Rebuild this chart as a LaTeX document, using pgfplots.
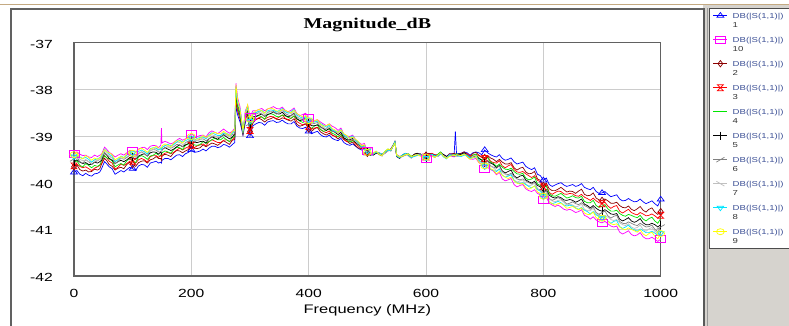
\documentclass[border=0pt]{standalone}
\usepackage{fontspec}
\usepackage{pgfplots}
\usepackage{pgfplotstable}
\pgfplotsset{compat=1.18}

\newfontfamily\labfont[FakeStretch=1.33]{Liberation Sans}
\newfontfamily\titlefont[FakeStretch=1.33]{Liberation Serif}

\definecolor{sblue}{RGB}{0,0,255}
\definecolor{smagenta}{RGB}{255,0,255}
\definecolor{sdarkred}{RGB}{139,0,0}
\definecolor{sred}{RGB}{255,0,0}
\definecolor{sgreen}{RGB}{0,230,0}
\definecolor{sgray}{RGB}{128,128,128}
\definecolor{slgray}{RGB}{192,192,192}
\definecolor{scyan}{RGB}{0,230,255}
\definecolor{syellow}{RGB}{255,255,0}
\definecolor{legtxt}{RGB}{60,80,150}
\definecolor{tanline}{RGB}{196,170,130}
\definecolor{panelgray}{RGB}{214,211,206}

% hourglass: two stacked triangles
\pgfdeclareplotmark{hourglass}{%
  \pgfpathmoveto{\pgfqpoint{-\pgfplotmarksize}{\pgfplotmarksize}}%
  \pgfpathlineto{\pgfqpoint{\pgfplotmarksize}{\pgfplotmarksize}}%
  \pgfpathlineto{\pgfqpoint{-\pgfplotmarksize}{-\pgfplotmarksize}}%
  \pgfpathlineto{\pgfqpoint{\pgfplotmarksize}{-\pgfplotmarksize}}%
  \pgfpathclose\pgfusepathqstroke}
\pgfdeclareplotmark{fslash}{%
  \pgfpathmoveto{\pgfqpoint{-\pgfplotmarksize}{-0.6\pgfplotmarksize}}%
  \pgfpathlineto{\pgfqpoint{\pgfplotmarksize}{0.6\pgfplotmarksize}}%
  \pgfusepathqstroke}
\pgfdeclareplotmark{bslash}{%
  \pgfpathmoveto{\pgfqpoint{-\pgfplotmarksize}{0.6\pgfplotmarksize}}%
  \pgfpathlineto{\pgfqpoint{\pgfplotmarksize}{-0.6\pgfplotmarksize}}%
  \pgfusepathqstroke}

\newcommand\lgd[1]{\makebox[0pt][l]{\raisebox{-9.5pt}[0pt][0pt]{\textcolor{black!80}{#1}}}\textcolor{legtxt}{DB(|S(1,1)|)}}

% |S11| in dB for the ten sweeps, frequency in MHz
\pgfplotstableread{
x s1 s2 s3 s4 s5 s6 s7 s8 s9 s10
0 -39.78 -39.66 -39.64 -39.57 -39.55 -39.49 -39.44 -39.44 -39.40 -39.38
5 -39.74 -39.62 -39.60 -39.53 -39.51 -39.45 -39.40 -39.40 -39.36 -39.34
10 -39.82 -39.72 -39.65 -39.63 -39.56 -39.55 -39.50 -39.45 -39.46 -39.39
15 -39.85 -39.75 -39.68 -39.66 -39.59 -39.58 -39.53 -39.48 -39.49 -39.42
20 -39.80 -39.73 -39.66 -39.59 -39.57 -39.51 -39.51 -39.46 -39.42 -39.41
25 -39.84 -39.77 -39.70 -39.63 -39.61 -39.55 -39.55 -39.50 -39.46 -39.45
30 -39.86 -39.76 -39.74 -39.68 -39.61 -39.61 -39.56 -39.56 -39.52 -39.46
35 -39.81 -39.71 -39.69 -39.63 -39.56 -39.56 -39.51 -39.51 -39.47 -39.41
40 -39.80 -39.73 -39.66 -39.65 -39.58 -39.53 -39.53 -39.49 -39.50 -39.44
44 -39.77 -39.70 -39.63 -39.62 -39.55 -39.50 -39.50 -39.46 -39.47 -39.41
47 -39.70 -39.60 -39.59 -39.53 -39.52 -39.47 -39.43 -39.43 -39.40 -39.39
52 -39.55 -39.48 -39.42 -39.42 -39.36 -39.36 -39.32 -39.28 -39.29 -39.24
56 -39.60 -39.53 -39.47 -39.47 -39.41 -39.41 -39.37 -39.33 -39.34 -39.29
60 -39.66 -39.61 -39.54 -39.49 -39.48 -39.43 -39.43 -39.39 -39.36 -39.35
65 -39.70 -39.65 -39.58 -39.53 -39.52 -39.47 -39.47 -39.43 -39.40 -39.39
70 -39.82 -39.73 -39.71 -39.66 -39.59 -39.59 -39.54 -39.55 -39.51 -39.45
75 -39.78 -39.69 -39.67 -39.62 -39.55 -39.55 -39.50 -39.51 -39.47 -39.41
80 -39.74 -39.67 -39.60 -39.59 -39.52 -39.47 -39.47 -39.43 -39.44 -39.38
85 -39.77 -39.70 -39.63 -39.62 -39.55 -39.50 -39.50 -39.46 -39.47 -39.41
90 -39.72 -39.61 -39.59 -39.53 -39.51 -39.46 -39.41 -39.41 -39.37 -39.36
95 -39.67 -39.56 -39.54 -39.48 -39.46 -39.41 -39.36 -39.36 -39.32 -39.31
100 -39.70 -39.61 -39.54 -39.53 -39.46 -39.46 -39.41 -39.36 -39.37 -39.31
105 -39.74 -39.65 -39.58 -39.57 -39.50 -39.50 -39.45 -39.40 -39.41 -39.35
110 -39.64 -39.57 -39.51 -39.45 -39.43 -39.37 -39.38 -39.33 -39.29 -39.28
115 -39.61 -39.54 -39.48 -39.42 -39.40 -39.34 -39.35 -39.30 -39.26 -39.25
120 -39.62 -39.53 -39.51 -39.45 -39.38 -39.38 -39.33 -39.34 -39.30 -39.24
125 -39.67 -39.58 -39.56 -39.50 -39.43 -39.43 -39.38 -39.39 -39.35 -39.29
130 -39.58 -39.51 -39.44 -39.43 -39.36 -39.31 -39.31 -39.27 -39.28 -39.22
135 -39.56 -39.49 -39.42 -39.41 -39.34 -39.29 -39.29 -39.25 -39.26 -39.20
140 -39.54 -39.44 -39.42 -39.37 -39.35 -39.30 -39.25 -39.26 -39.22 -39.21
144 -39.58 -39.48 -39.46 -39.41 -39.39 -39.34 -39.29 -39.30 -39.26 -39.25
148 -39.56 -39.48 -39.41 -39.41 -39.34 -39.34 -39.29 -39.25 -39.26 -39.20
149 -39.58 -39.52 -39.45 -39.40 -39.38 -39.33 -39.33 -39.29 -39.25 -38.83
150 -39.52 -39.43 -39.41 -39.36 -39.29 -39.29 -39.24 -39.25 -39.21 -39.15
155 -39.48 -39.39 -39.37 -39.32 -39.25 -39.25 -39.20 -39.21 -39.17 -39.11
160 -39.48 -39.41 -39.35 -39.34 -39.28 -39.23 -39.23 -39.18 -39.20 -39.14
165 -39.51 -39.44 -39.38 -39.37 -39.31 -39.26 -39.26 -39.21 -39.23 -39.17
170 -39.46 -39.36 -39.35 -39.29 -39.28 -39.23 -39.18 -39.18 -39.15 -39.14
175 -39.41 -39.31 -39.30 -39.24 -39.23 -39.18 -39.13 -39.13 -39.10 -39.09
180 -39.40 -39.32 -39.26 -39.25 -39.19 -39.19 -39.14 -39.09 -39.11 -39.05
185 -39.44 -39.36 -39.30 -39.29 -39.23 -39.23 -39.18 -39.13 -39.15 -39.09
190 -39.38 -39.32 -39.26 -39.20 -39.19 -39.14 -39.15 -39.10 -39.07 -39.06
195 -39.35 -39.29 -39.23 -39.17 -39.16 -39.11 -39.12 -39.07 -39.04 -39.03
200 -39.30 -39.21 -39.20 -39.14 -39.08 -39.08 -39.04 -39.04 -39.01 -38.95
205 -39.35 -39.26 -39.25 -39.19 -39.13 -39.13 -39.09 -39.09 -39.06 -39.00
210 -39.34 -39.27 -39.21 -39.20 -39.14 -39.09 -39.10 -39.05 -39.07 -39.01
215 -39.32 -39.25 -39.19 -39.18 -39.12 -39.07 -39.08 -39.03 -39.05 -38.99
220 -39.28 -39.19 -39.17 -39.12 -39.11 -39.06 -39.01 -39.02 -38.99 -38.98
225 -39.32 -39.23 -39.21 -39.16 -39.15 -39.10 -39.05 -39.06 -39.03 -39.02
230 -39.26 -39.19 -39.12 -39.12 -39.06 -39.06 -39.01 -38.97 -38.99 -38.93
235 -39.22 -39.15 -39.08 -39.08 -39.02 -39.02 -38.97 -38.93 -38.95 -38.89
240 -39.22 -39.17 -39.11 -39.05 -39.04 -39.00 -39.00 -38.96 -38.92 -38.92
245 -39.25 -39.20 -39.14 -39.08 -39.07 -39.03 -39.03 -38.99 -38.95 -38.95
250 -39.23 -39.15 -39.14 -39.08 -39.02 -39.03 -38.98 -38.99 -38.95 -38.90
255 -39.18 -39.10 -39.09 -39.03 -38.97 -38.98 -38.93 -38.94 -38.90 -38.85
260 -39.20 -39.14 -39.08 -39.08 -39.02 -38.97 -38.98 -38.94 -38.95 -38.90
265 -39.24 -39.18 -39.12 -39.12 -39.06 -39.01 -39.02 -38.98 -38.99 -38.94
270 -39.18 -39.09 -39.08 -39.03 -39.02 -38.97 -38.93 -38.94 -38.90 -38.90
274 -39.14 -39.07 -39.01 -39.01 -38.95 -38.95 -38.91 -38.87 -38.88 -38.83
276 -38.37 -38.27 -38.19 -38.11 -38.07 -38.01 -38.00 -37.94 -37.90 -37.87
279 -38.55 -38.46 -38.44 -38.39 -38.32 -38.32 -38.27 -38.28 -38.24 -38.18
283 -38.70 -38.64 -38.57 -38.57 -38.51 -38.46 -38.46 -38.42 -38.44 -38.38
288 -38.98 -38.94 -38.95 -38.92 -38.94 -38.91 -38.88 -38.91 -38.88 -38.90
292 -38.72 -38.66 -38.61 -38.61 -38.56 -38.57 -38.53 -38.49 -38.51 -38.46
296 -38.55 -38.52 -38.47 -38.43 -38.43 -38.39 -38.40 -38.37 -38.33 -38.34
300 -39.00 -38.90 -38.88 -38.81 -38.74 -38.73 -38.68 -38.68 -38.64 -38.58
305 -38.78 -38.72 -38.65 -38.65 -38.59 -38.54 -38.54 -38.50 -38.52 -38.46
310 -38.74 -38.65 -38.64 -38.59 -38.58 -38.53 -38.49 -38.50 -38.46 -38.46
315 -38.71 -38.62 -38.61 -38.56 -38.55 -38.50 -38.46 -38.47 -38.43 -38.43
320 -38.72 -38.65 -38.59 -38.59 -38.53 -38.53 -38.49 -38.45 -38.46 -38.41
325 -38.77 -38.70 -38.64 -38.64 -38.58 -38.58 -38.54 -38.50 -38.51 -38.46
330 -38.70 -38.65 -38.60 -38.54 -38.54 -38.49 -38.50 -38.46 -38.42 -38.42
335 -38.68 -38.63 -38.58 -38.52 -38.52 -38.47 -38.48 -38.44 -38.40 -38.40
340 -38.67 -38.60 -38.59 -38.54 -38.48 -38.49 -38.44 -38.45 -38.42 -38.37
345 -38.71 -38.64 -38.63 -38.58 -38.52 -38.53 -38.48 -38.49 -38.46 -38.41
350 -38.70 -38.65 -38.59 -38.59 -38.53 -38.49 -38.49 -38.45 -38.47 -38.42
355 -38.66 -38.61 -38.55 -38.55 -38.49 -38.45 -38.45 -38.41 -38.43 -38.38
360 -38.71 -38.63 -38.62 -38.57 -38.56 -38.52 -38.47 -38.48 -38.45 -38.45
365 -38.74 -38.66 -38.65 -38.60 -38.59 -38.55 -38.50 -38.51 -38.48 -38.48
370 -38.74 -38.68 -38.62 -38.62 -38.56 -38.57 -38.52 -38.48 -38.50 -38.45
375 -38.69 -38.63 -38.57 -38.57 -38.51 -38.52 -38.47 -38.43 -38.45 -38.40
380 -38.79 -38.75 -38.69 -38.64 -38.63 -38.59 -38.59 -38.55 -38.52 -38.52
385 -38.83 -38.79 -38.73 -38.68 -38.67 -38.63 -38.63 -38.59 -38.56 -38.56
390 -38.84 -38.77 -38.76 -38.71 -38.65 -38.66 -38.61 -38.62 -38.59 -38.54
395 -38.81 -38.74 -38.73 -38.68 -38.62 -38.63 -38.58 -38.59 -38.56 -38.51
400 -38.90 -38.85 -38.79 -38.79 -38.73 -38.69 -38.69 -38.65 -38.67 -38.62
405 -38.95 -38.90 -38.84 -38.84 -38.78 -38.74 -38.74 -38.70 -38.72 -38.67
410 -38.92 -38.84 -38.83 -38.78 -38.78 -38.73 -38.69 -38.70 -38.67 -38.67
415 -38.90 -38.82 -38.81 -38.76 -38.76 -38.71 -38.67 -38.68 -38.65 -38.65
420 -38.97 -38.91 -38.86 -38.86 -38.80 -38.81 -38.77 -38.73 -38.75 -38.70
425 -39.01 -38.95 -38.90 -38.90 -38.84 -38.85 -38.81 -38.77 -38.79 -38.74
430 -39.02 -38.98 -38.93 -38.88 -38.88 -38.84 -38.85 -38.81 -38.78 -38.78
435 -38.98 -38.94 -38.89 -38.84 -38.84 -38.80 -38.81 -38.77 -38.74 -38.74
440 -39.05 -38.98 -38.98 -38.94 -38.89 -38.89 -38.86 -38.87 -38.84 -38.79
445 -39.08 -39.01 -39.01 -38.97 -38.92 -38.92 -38.89 -38.90 -38.87 -38.82
450 -39.10 -39.06 -39.01 -39.02 -38.97 -38.93 -38.94 -38.91 -38.92 -38.88
455 -39.05 -39.01 -38.96 -38.97 -38.92 -38.88 -38.89 -38.86 -38.87 -38.83
460 -39.14 -39.07 -39.08 -39.04 -39.04 -39.00 -38.97 -38.98 -38.95 -38.96
465 -39.18 -39.11 -39.12 -39.08 -39.08 -39.04 -39.01 -39.02 -38.99 -39.00
470 -39.20 -39.16 -39.12 -39.13 -39.08 -39.10 -39.06 -39.03 -39.05 -39.01
475 -39.17 -39.13 -39.09 -39.10 -39.05 -39.07 -39.03 -39.00 -39.02 -38.98
480 -39.22 -39.21 -39.17 -39.13 -39.14 -39.11 -39.12 -39.09 -39.07 -39.08
485 -39.27 -39.26 -39.22 -39.18 -39.19 -39.16 -39.17 -39.14 -39.12 -39.13
490 -39.30 -39.27 -39.28 -39.25 -39.22 -39.24 -39.21 -39.24 -39.21 -39.18
495 -39.28 -39.25 -39.26 -39.23 -39.20 -39.22 -39.19 -39.22 -39.19 -39.16
500 -39.37 -39.37 -39.34 -39.37 -39.34 -39.32 -39.34 -39.32 -39.35 -39.32
505 -39.41 -39.41 -39.38 -39.41 -39.38 -39.36 -39.38 -39.36 -39.39 -39.36
510 -39.40 -39.38 -39.40 -39.38 -39.41 -39.39 -39.36 -39.39 -39.37 -39.40
515 -39.36 -39.34 -39.36 -39.34 -39.37 -39.35 -39.32 -39.35 -39.33 -39.36
520 -39.38 -39.38 -39.36 -39.39 -39.37 -39.40 -39.38 -39.36 -39.39 -39.37
525 -39.41 -39.41 -39.39 -39.42 -39.40 -39.43 -39.41 -39.39 -39.42 -39.40
530 -39.35 -39.37 -39.35 -39.33 -39.36 -39.34 -39.37 -39.35 -39.33 -39.36
535 -39.30 -39.32 -39.30 -39.28 -39.31 -39.29 -39.32 -39.30 -39.28 -39.31
540 -39.30 -39.29 -39.32 -39.30 -39.28 -39.31 -39.29 -39.32 -39.30 -39.28
547 -39.13 -39.14 -39.12 -39.15 -39.13 -39.11 -39.14 -39.12 -39.15 -39.13
550 -39.42 -39.40 -39.43 -39.41 -39.44 -39.42 -39.40 -39.43 -39.41 -39.44
555 -39.46 -39.44 -39.47 -39.45 -39.48 -39.46 -39.44 -39.47 -39.45 -39.48
560 -39.42 -39.42 -39.40 -39.43 -39.41 -39.44 -39.42 -39.40 -39.43 -39.41
565 -39.39 -39.39 -39.37 -39.40 -39.38 -39.41 -39.39 -39.37 -39.40 -39.38
570 -39.39 -39.41 -39.40 -39.38 -39.41 -39.39 -39.43 -39.41 -39.39 -39.42
575 -39.44 -39.46 -39.45 -39.43 -39.46 -39.44 -39.48 -39.46 -39.44 -39.47
580 -39.40 -39.39 -39.43 -39.41 -39.39 -39.42 -39.41 -39.44 -39.42 -39.40
585 -39.38 -39.37 -39.41 -39.39 -39.37 -39.40 -39.39 -39.42 -39.40 -39.38
590 -39.38 -39.40 -39.38 -39.41 -39.40 -39.38 -39.41 -39.40 -39.43 -39.41
595 -39.42 -39.44 -39.42 -39.45 -39.44 -39.42 -39.45 -39.44 -39.47 -39.45
600 -39.42 -39.41 -39.45 -39.43 -39.47 -39.45 -39.44 -39.47 -39.45 -39.49
605 -39.38 -39.37 -39.41 -39.39 -39.43 -39.41 -39.40 -39.43 -39.41 -39.45
610 -39.38 -39.39 -39.37 -39.41 -39.39 -39.43 -39.41 -39.39 -39.43 -39.41
615 -39.41 -39.42 -39.40 -39.44 -39.42 -39.46 -39.44 -39.42 -39.46 -39.44
620 -39.40 -39.43 -39.41 -39.39 -39.43 -39.41 -39.44 -39.43 -39.41 -39.44
625 -39.35 -39.38 -39.36 -39.34 -39.38 -39.36 -39.39 -39.38 -39.36 -39.39
630 -39.40 -39.40 -39.43 -39.42 -39.40 -39.44 -39.42 -39.45 -39.44 -39.42
635 -39.44 -39.44 -39.47 -39.46 -39.44 -39.48 -39.46 -39.49 -39.48 -39.46
640 -39.38 -39.40 -39.38 -39.42 -39.40 -39.39 -39.42 -39.40 -39.44 -39.42
648 -39.38 -39.37 -39.41 -39.39 -39.43 -39.41 -39.40 -39.43 -39.41 -39.45
650 -38.90 -39.39 -39.38 -39.41 -39.40 -39.43 -39.42 -39.40 -39.43 -39.42
652 -39.38 -39.41 -39.40 -39.38 -39.42 -39.40 -39.44 -39.42 -39.40 -39.44
660 -39.37 -39.37 -39.41 -39.40 -39.39 -39.42 -39.41 -39.44 -39.42 -39.41
665 -39.34 -39.34 -39.38 -39.37 -39.36 -39.39 -39.38 -39.41 -39.39 -39.38
670 -39.36 -39.39 -39.38 -39.42 -39.41 -39.40 -39.43 -39.42 -39.45 -39.44
675 -39.41 -39.44 -39.43 -39.47 -39.46 -39.45 -39.48 -39.47 -39.50 -39.49
680 -39.36 -39.37 -39.41 -39.41 -39.45 -39.44 -39.43 -39.47 -39.46 -39.50
685 -39.34 -39.35 -39.39 -39.39 -39.43 -39.42 -39.41 -39.45 -39.44 -39.48
690 -39.36 -39.41 -39.42 -39.47 -39.48 -39.53 -39.53 -39.52 -39.57 -39.57
695 -39.40 -39.45 -39.46 -39.51 -39.52 -39.57 -39.57 -39.56 -39.61 -39.61
700 -39.30 -39.46 -39.48 -39.50 -39.57 -39.58 -39.64 -39.65 -39.64 -39.71
705 -39.36 -39.42 -39.44 -39.46 -39.53 -39.54 -39.60 -39.61 -39.60 -39.67
710 -39.40 -39.47 -39.54 -39.56 -39.58 -39.64 -39.65 -39.71 -39.70 -39.72
715 -39.43 -39.50 -39.57 -39.59 -39.61 -39.67 -39.68 -39.74 -39.73 -39.75
720 -39.45 -39.55 -39.58 -39.65 -39.68 -39.69 -39.75 -39.76 -39.81 -39.83
725 -39.40 -39.50 -39.53 -39.60 -39.63 -39.64 -39.70 -39.71 -39.76 -39.78
730 -39.48 -39.56 -39.64 -39.67 -39.75 -39.77 -39.78 -39.84 -39.84 -39.92
735 -39.52 -39.60 -39.68 -39.71 -39.79 -39.81 -39.82 -39.88 -39.88 -39.96
740 -39.50 -39.60 -39.64 -39.72 -39.76 -39.83 -39.85 -39.86 -39.91 -39.94
745 -39.47 -39.57 -39.61 -39.69 -39.73 -39.80 -39.82 -39.83 -39.88 -39.91
750 -39.55 -39.68 -39.72 -39.76 -39.85 -39.87 -39.94 -39.95 -39.96 -40.04
755 -39.60 -39.73 -39.77 -39.81 -39.90 -39.92 -39.99 -40.00 -40.01 -40.09
760 -39.58 -39.69 -39.78 -39.82 -39.86 -39.94 -39.96 -40.02 -40.03 -40.06
765 -39.56 -39.67 -39.76 -39.80 -39.84 -39.92 -39.94 -40.00 -40.01 -40.04
770 -39.65 -39.77 -39.81 -39.90 -39.94 -39.96 -40.03 -40.04 -40.10 -40.13
775 -39.69 -39.81 -39.85 -39.94 -39.98 -40.00 -40.07 -40.08 -40.14 -40.17
780 -39.72 -39.80 -39.89 -39.92 -40.01 -40.03 -40.05 -40.11 -40.11 -40.19
785 -39.68 -39.76 -39.85 -39.88 -39.97 -39.99 -40.01 -40.07 -40.07 -40.15
790 -39.82 -39.92 -39.95 -40.03 -40.06 -40.13 -40.14 -40.15 -40.20 -40.23
795 -39.85 -39.95 -39.98 -40.06 -40.09 -40.16 -40.17 -40.18 -40.23 -40.26
800 -39.95 -40.06 -40.09 -40.12 -40.20 -40.22 -40.28 -40.29 -40.29 -40.36
805 -39.90 -40.01 -40.04 -40.07 -40.15 -40.17 -40.23 -40.24 -40.24 -40.31
810 -40.04 -40.13 -40.21 -40.24 -40.27 -40.34 -40.35 -40.41 -40.41 -40.44
815 -40.08 -40.17 -40.25 -40.28 -40.31 -40.38 -40.39 -40.45 -40.45 -40.48
820 -40.05 -40.17 -40.21 -40.29 -40.33 -40.35 -40.41 -40.43 -40.48 -40.51
825 -40.02 -40.14 -40.18 -40.26 -40.30 -40.32 -40.38 -40.40 -40.45 -40.48
830 -40.00 -40.10 -40.19 -40.23 -40.32 -40.35 -40.37 -40.43 -40.44 -40.52
835 -40.05 -40.15 -40.24 -40.28 -40.37 -40.40 -40.42 -40.48 -40.49 -40.57
840 -40.08 -40.20 -40.25 -40.33 -40.38 -40.46 -40.48 -40.50 -40.55 -40.59
845 -40.06 -40.18 -40.23 -40.31 -40.36 -40.44 -40.46 -40.48 -40.53 -40.57
850 -40.04 -40.19 -40.24 -40.28 -40.38 -40.41 -40.48 -40.50 -40.51 -40.60
855 -40.08 -40.23 -40.28 -40.32 -40.42 -40.45 -40.52 -40.54 -40.55 -40.64
860 -40.06 -40.18 -40.29 -40.33 -40.39 -40.47 -40.50 -40.57 -40.58 -40.62
865 -40.02 -40.14 -40.25 -40.29 -40.35 -40.43 -40.46 -40.53 -40.54 -40.58
870 -40.10 -40.25 -40.31 -40.40 -40.46 -40.49 -40.57 -40.59 -40.65 -40.70
875 -40.13 -40.28 -40.34 -40.43 -40.49 -40.52 -40.60 -40.62 -40.68 -40.73
880 -40.15 -40.27 -40.38 -40.43 -40.54 -40.57 -40.60 -40.67 -40.68 -40.78
885 -40.10 -40.22 -40.33 -40.38 -40.49 -40.52 -40.55 -40.62 -40.63 -40.73
890 -40.19 -40.33 -40.39 -40.49 -40.55 -40.64 -40.67 -40.69 -40.75 -40.80
895 -40.23 -40.37 -40.43 -40.53 -40.59 -40.68 -40.71 -40.73 -40.79 -40.84
900 -40.22 -40.38 -40.45 -40.50 -40.61 -40.64 -40.73 -40.75 -40.76 -40.86
905 -40.19 -40.35 -40.42 -40.47 -40.58 -40.61 -40.70 -40.72 -40.73 -40.83
910 -40.25 -40.39 -40.50 -40.56 -40.62 -40.71 -40.74 -40.82 -40.83 -40.88
915 -40.30 -40.44 -40.55 -40.61 -40.67 -40.76 -40.79 -40.87 -40.88 -40.93
920 -40.28 -40.44 -40.51 -40.61 -40.68 -40.72 -40.81 -40.83 -40.90 -40.95
925 -40.26 -40.42 -40.49 -40.59 -40.66 -40.70 -40.79 -40.81 -40.88 -40.93
930 -40.35 -40.49 -40.61 -40.66 -40.78 -40.83 -40.86 -40.94 -40.95 -41.06
935 -40.39 -40.53 -40.65 -40.70 -40.82 -40.87 -40.90 -40.98 -40.99 -41.10
940 -40.38 -40.54 -40.61 -40.72 -40.79 -40.88 -40.92 -40.95 -41.01 -41.07
945 -40.34 -40.50 -40.57 -40.68 -40.75 -40.84 -40.88 -40.91 -40.97 -41.03
950 -40.38 -40.57 -40.64 -40.70 -40.82 -40.87 -40.95 -40.98 -41.00 -41.11
955 -40.41 -40.60 -40.67 -40.73 -40.85 -40.90 -40.98 -41.01 -41.03 -41.14
960 -40.40 -40.56 -40.69 -40.75 -40.82 -40.92 -40.96 -41.04 -41.06 -41.12
965 -40.35 -40.51 -40.64 -40.70 -40.77 -40.87 -40.91 -40.99 -41.01 -41.07
970 -40.41 -40.59 -40.67 -40.78 -40.86 -40.91 -41.00 -41.03 -41.10 -41.16
975 -40.45 -40.63 -40.71 -40.82 -40.90 -40.95 -41.04 -41.07 -41.14 -41.20
980 -40.42 -40.57 -40.70 -40.77 -40.90 -40.94 -40.99 -41.07 -41.09 -41.20
985 -40.39 -40.54 -40.67 -40.74 -40.87 -40.91 -40.96 -41.04 -41.06 -41.17
990 -40.45 -40.63 -40.71 -40.82 -40.90 -41.00 -41.04 -41.08 -41.15 -41.21
995 -40.50 -40.68 -40.76 -40.87 -40.95 -41.05 -41.09 -41.13 -41.20 -41.26
1000 -40.36 -40.62 -40.70 -40.77 -40.90 -40.95 -41.04 -41.08 -41.09 -41.21
}\magdata

\begin{document}
\begin{tikzpicture}[x=1pt,y=1pt]
\useasboundingbox (0pt,0pt) rectangle (789pt,326pt);
% window frame
\fill[white] (0pt,0pt) rectangle (789pt,326pt);
\draw[tanline, line width=1.4pt] (0pt,321.7pt) -- (789pt,321.7pt);
\draw[black!62, line width=1.2pt] (11pt,0pt) -- (11pt,317pt) -- (703pt,317pt);
\fill[panelgray] (703pt,0pt) rectangle (789pt,321pt);
\draw[black!65, line width=2pt] (704pt,0pt) -- (704pt,318pt);
\draw[black!40, line width=0.8pt] (707.8pt,0pt) -- (707.8pt,318pt);
\filldraw[fill=white, draw=black!70, line width=0.8pt] (709.5pt,78pt) rectangle (795pt,318pt);

\begin{axis}[
  at={(74pt,50pt)}, anchor=south west,
  scale only axis, width=586.7pt, height=233.3pt,
  xmin=0, xmax=1000, ymin=-42, ymax=-37,
  xtick={0,200,400,600,800,1000}, xticklabels={0,200,400,600,800,1000},
  ytick={-42,-41,-40,-39,-38,-37}, yticklabels={-42,-41,-40,-39,-38,-37},
  major tick length=0pt,
  grid=major, grid style={draw=black!20, line width=0.9pt},
  axis line style={draw=black!62, line width=1.1pt},
  xticklabel style={font=\labfont\fontsize{11.8}{12}\selectfont, anchor=north, inner sep=0pt, yshift=-13pt},
  yticklabel style={font=\labfont\fontsize{11.8}{12}\selectfont, anchor=east, inner sep=0pt, xshift=-21pt, yshift=-1.4pt},
  xlabel={Frequency (MHz)},
  xlabel style={at={(axis description cs:0.5,0)}, anchor=north, inner sep=0pt, yshift=-28pt, font=\labfont\fontsize{12.4}{13}\selectfont},
  title={\bfseries Magnitude\_dB},
  title style={at={(axis description cs:0.5,1)}, anchor=base, inner sep=0pt, yshift=7.7pt, font=\titlefont\fontsize{15}{16}\selectfont},
  legend cell align=left,
  legend style={at={(1.0892,1.1672)}, anchor=north west, draw=none, fill=none,
    inner sep=0pt, outer sep=0pt, row sep=0pt, column sep=5pt,
    font=\labfont\fontsize{7.2}{8}\selectfont,
    nodes={inner sep=0pt, text height=14.5pt, text depth=9.5pt}},
  legend image code/.code={\draw[mark repeat=2,mark phase=2,#1] plot coordinates {(0pt,0pt) (7pt,0pt) (14pt,0pt)};},
  legend image post style={mark indices={2}},
  every axis plot/.append style={line width=0.7pt, mark indices={1,22,44,66,86,106,126,146,166,186,206}},
]
\addplot[sblue, mark=triangle, mark size=4pt, mark options={solid, yscale=0.8}] table[x=x,y=s1]{\magdata};
\addlegendentry{\lgd{1}}
\addplot[smagenta, mark=square, mark size=3.5pt, mark options={solid, xscale=1.45}] table[x=x,y=s10]{\magdata};
\addlegendentry{\lgd{10}}
\addplot[sdarkred, mark=diamond, mark size=3.2pt, mark options={solid}] table[x=x,y=s2]{\magdata};
\addlegendentry{\lgd{2}}
\addplot[sred, mark=hourglass, mark size=3pt, mark options={solid}] table[x=x,y=s3]{\magdata};
\addlegendentry{\lgd{3}}
\addplot[sgreen, no marks] table[x=x,y=s4]{\magdata};
\addlegendentry{\lgd{4}}
\addplot[black, mark=|, mark size=4pt, mark options={solid}] table[x=x,y=s5]{\magdata};
\addlegendentry{\lgd{5}}
\addplot[sgray, mark=fslash, mark size=4pt, mark options={solid}] table[x=x,y=s6]{\magdata};
\addlegendentry{\lgd{6}}
\addplot[slgray, mark=bslash, mark size=4pt, mark options={solid}] table[x=x,y=s7]{\magdata};
\addlegendentry{\lgd{7}}
\addplot[scyan, mark=triangle, mark size=3.8pt, mark options={solid, rotate=180, yscale=0.8}] table[x=x,y=s8]{\magdata};
\addlegendentry{\lgd{8}}
\addplot[syellow, mark=o, mark size=3pt, mark options={solid, xscale=1.3}] table[x=x,y=s9]{\magdata};
\addlegendentry{\lgd{9}}
\end{axis}
\end{tikzpicture}
\end{document}
